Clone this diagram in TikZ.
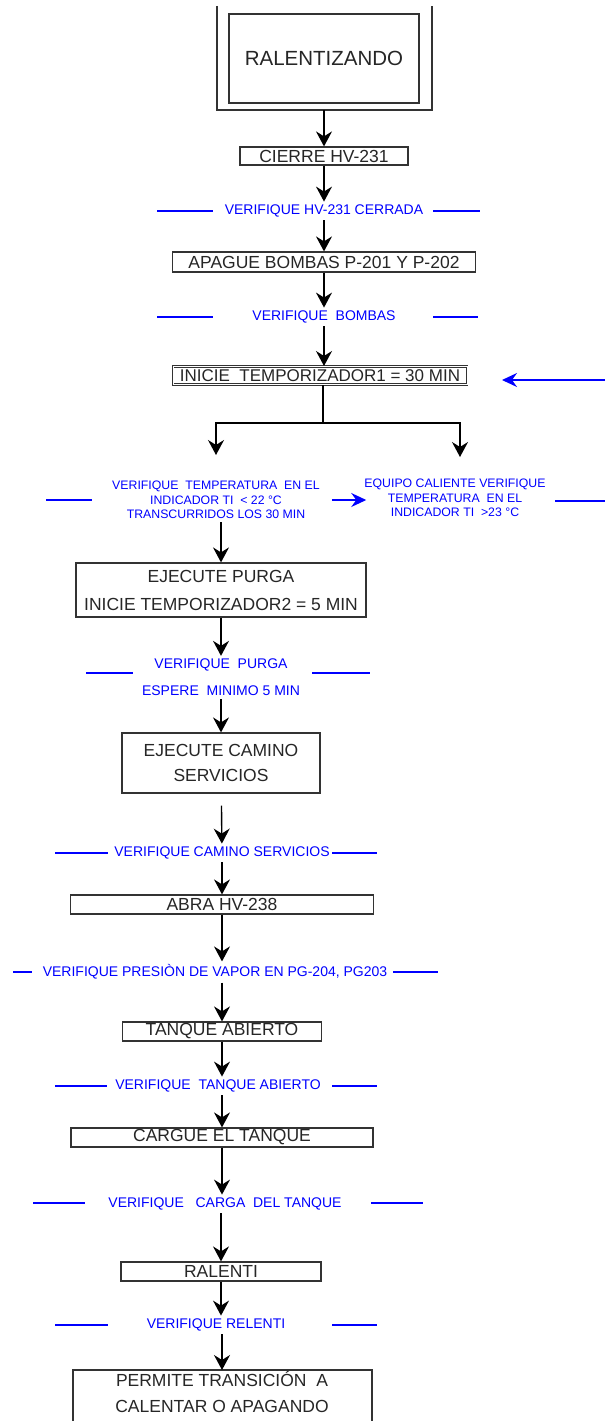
\documentclass[tikz,border=0pt]{standalone}
\usepackage{fontspec}
\setmainfont{Liberation Sans}
\usetikzlibrary{arrows.meta}

\tikzset{
  box/.style={draw=black!80, line width=1.2pt, text=black!85, inner sep=0pt,
    font=\fontsize{17.5}{20}\selectfont},
  chk/.style={text=blue, inner sep=3pt, font=\fontsize{14}{16}\selectfont},
  branch/.style={chk, align=center, font=\fontsize{12.3}{14.5}\selectfont},
  side/.style={blue, line width=1.3pt},
  flow/.style={->, line width=1.4pt},
  bflow/.style={-{Stealth[length=15pt,width=14pt,inset=5pt]}, blue, line width=1.4pt},
}

\begin{document}
\begin{tikzpicture}[x=1pt,y=-1pt,>={Stealth[length=15pt,width=16pt,inset=5pt]}]
\useasboundingbox (0,0) rectangle (605,1421);
%%
\node (ralent) at (324,58.5) [box, minimum width=190pt, minimum height=89pt, font=\fontsize{20.5}{24}\selectfont] {RALENTIZANDO};
  \draw [line width=1.2pt, black!80] (217,6) |- (432,110) -- (432,6);
  \coordinate (frameb) at (324,110);
  \node (cierre) at (324,156) [box, minimum width=168pt, minimum height=18pt] {CIERRE HV-231};
  \node (chk1) at (324,211) [chk] {VERIFIQUE HV-231 CERRADA};
  \node (apague) at (324,262) [box, minimum width=303pt, minimum height=20pt] {APAGUE BOMBAS P-201 Y P-202};
  \node (chk2) at (324,317) [chk] {VERIFIQUE\ \ BOMBAS};
  \node (inicie) at (320,375.5) [box, double, double distance=0.5pt, line width=1pt, minimum width=294pt, minimum height=18pt, font=\fontsize{17}{20}\selectfont] {INICIE\ \ TEMPORIZADOR1 = 30 MIN};
  \draw [flow] (frameb) -- (cierre);
  \draw [flow] (cierre) -- (chk1);
  \draw [flow] (chk1) -- (apague);
  \draw [flow] (apague) -- (chk2);
  \draw [flow] (chk2) -- (chk2 |- inicie.north);
  \draw [side] (157,211) -- (213,211) (433,211) -- (480,211);
  \draw [side] (157,317) -- (213,317) (433,317) -- (478,317);
%
  \coordinate (loopin) at (605,380);
  \draw [bflow] (loopin) -- ++(-103,0);
  \coordinate (split) at (323,423);
  \coordinate (tipL) at (216,455);
  \coordinate (tipR) at (460,457);
  \draw [line width=1.4pt] (inicie.south -| split) -- (split);
  \draw [flow] (split) -| (tipL);
  \draw [flow] (split) -| (tipR);
  \node (tempL) at (216,500) [branch] {VERIFIQUE\ \ TEMPERATURA\ \ EN EL\\INDICADOR TI\ \ < 22 °C\\TRANSCURRIDOS LOS 30 MIN};
  \node (tempR) at (455,498) [branch] {EQUIPO CALIENTE VERIFIQUE\\TEMPERATURA\ \ EN EL\\INDICADOR TI\ \ >23 °C};
  \draw [bflow, shorten <=9pt, shorten >=-5pt] (tempL.east) -- (tempL.east -| tempR.west);
  \draw [side] (46,500) -- (92,500) (555,501) -- (605,501);
%
  \node (purga) at (221,590) [box, minimum width=290pt, minimum height=54pt, align=center, font=\fontsize{17.5}{28}\selectfont] {EJECUTE PURGA\\INICIE TEMPORIZADOR2 = 5 MIN};
  \node (chk3) at (221,677.5) [chk, align=center, font=\fontsize{14}{27}\selectfont] {VERIFIQUE\ \ PURGA\\ESPERE\ \ MINIMO 5 MIN};
  \node (camino) at (221,763) [box, minimum width=198pt, minimum height=60pt, align=center, font=\fontsize{17.5}{25}\selectfont] {EJECUTE CAMINO\\SERVICIOS};
  \node (chk4) at (222,853) [chk] {VERIFIQUE CAMINO SERVICIOS};
  \node (abra) at (222,904.5) [box, minimum width=303pt, minimum height=19pt] {ABRA HV-238};
  \node (chk5) at (215,972) [chk] {VERIFIQUE PRESIÒN DE VAPOR EN PG-204, PG203};
  \node (tanque) at (222,1031.5) [box, minimum width=199pt, minimum height=19pt] {TANQUE ABIERTO};
  \node (chk6) at (218,1086) [chk] {VERIFIQUE\ \ TANQUE ABIERTO};
  \node (cargue) at (222,1137.5) [box, minimum width=302pt, minimum height=19pt] {CARGUE EL TANQUE};
  \node (chk7) at (225,1204) [chk] {VERIFIQUE\ \ \ CARGA\ \ DEL TANQUE};
  \node (ralenti) at (221,1271.5) [box, minimum width=200pt, minimum height=19pt] {RALENTI};
  \node (chk8) at (216,1325) [chk] {VERIFIQUE RELENTI};
  \node (permite) at (222,1370) [anchor=north, inner xsep=0pt, inner ysep=1pt, text=black!85, align=center, font=\fontsize{17.5}{26}\selectfont] {PERMITE TRANSICIÓN\ \ A\\CALENTAR O APAGANDO};
  \draw [line width=1.2pt, black!80] (73,1440) |- (372,1370) -- (372,1440);
%
  \draw [flow] (tempL.south -| purga) -- (purga);
  \draw [flow] (purga) -- (chk3);
  \draw [flow] (chk3) -- (camino);
  \draw [flow, shorten <=12pt] (camino) -- (chk4);
  \draw [flow] (chk4) -- (abra);
  \draw [flow] (abra) -- (abra |- chk5.north);
  \draw [flow] (chk5.south -| tanque) -- (tanque);
  \draw [flow] (tanque) -- (tanque |- chk6.north);
  \draw [flow] (chk6.south -| cargue) -- (cargue);
  \draw [flow] (cargue) -- (cargue |- chk7.north);
  \draw [flow] (chk7.south -| ralenti) -- (ralenti);
  \draw [flow] (ralenti) -- (ralenti |- chk8.north);
  \draw [flow] (chk8.south -| permite) -- (permite);
  \draw [side] (86,673) -- (133,673) (312,673) -- (370,673);
  \draw [side] (55,853) -- (108,853) (332,853) -- (377,853);
  \draw [side] (13,972) -- (32,972) (393,972) -- (438,972);
  \draw [side] (55,1086) -- (107,1086) (332,1086) -- (377,1086);
  \draw [side] (33,1203) -- (85,1203) (371,1203) -- (423,1203);
  \draw [side] (55,1325) -- (108,1325) (332,1325) -- (377,1325);
%
\end{tikzpicture}
\end{document}
